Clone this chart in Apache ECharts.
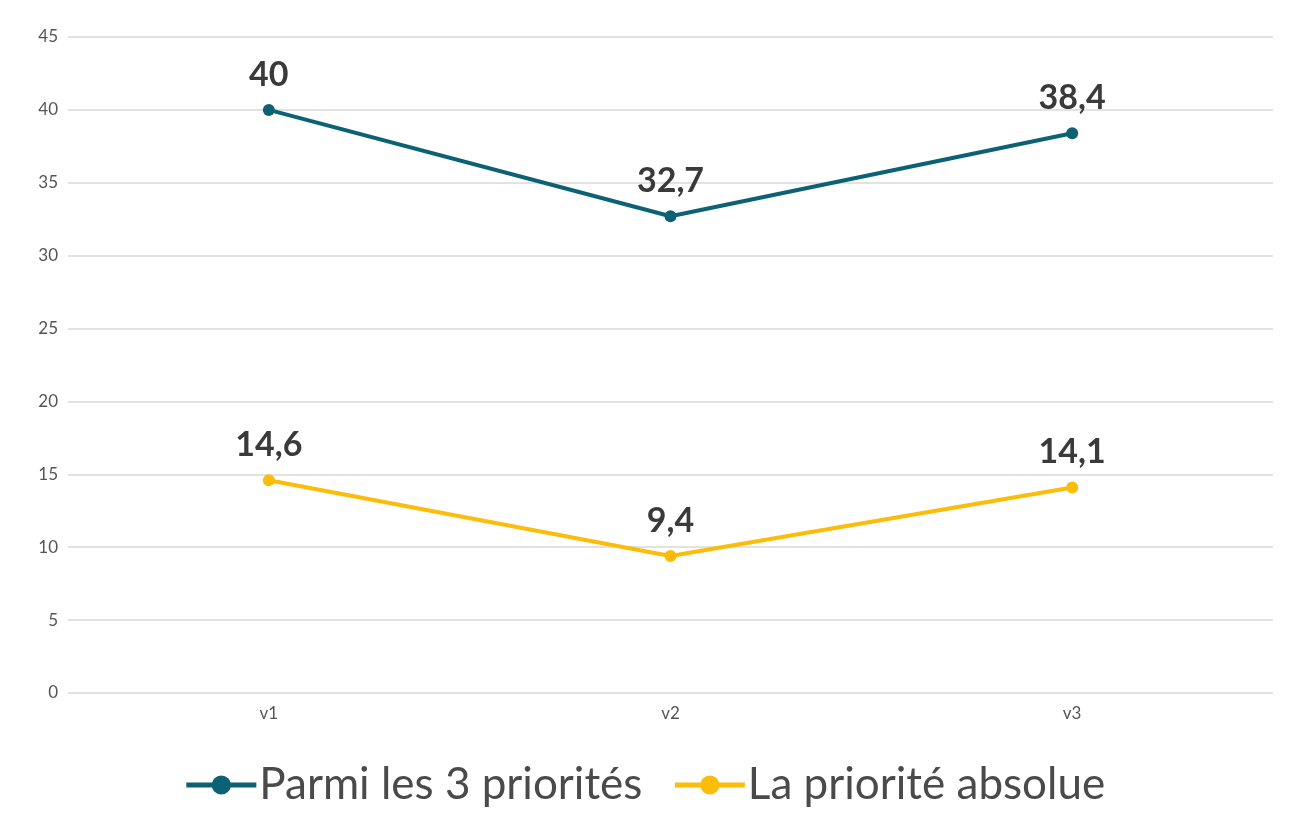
<!DOCTYPE html>
<html>
<head>
<meta charset="utf-8">
<script src="https://cdn.jsdelivr.net/npm/echarts@6/dist/echarts.min.js"></script>
<style>
  html, body { margin: 0; padding: 0; background: #fff; }
  #chart { width: 1289px; height: 816px; }
</style>
</head>
<body>
<div id="chart"></div>
<script>
const categories = ['v1', 'v2', 'v3'];
const parmiTrois = [40, 32.7, 38.4];
const prioriteAbsolue = [14.6, 9.4, 14.1];
const seriesNames = ['Parmi les 3 priorités', 'La priorité absolue'];

const fr = v => String(v).replace('.', ',');

const chart = echarts.init(document.getElementById('chart'));

const labelStyle = {
  show: true,
  position: 'top',
  distance: 12,
  fontFamily: 'Lato',
  fontWeight: 'bold',
  fontSize: 34,
  color: '#3a3a3a',
  formatter: p => fr(p.value)
};

chart.setOption({
  animation: false,
  textStyle: { fontFamily: 'Lato' },
  grid: { left: 68, right: 16, top: 37, bottom: 123 },
  legend: {
    bottom: 4,
    left: 'center',
    itemWidth: 70,
    itemHeight: 24,
    itemGap: 30,
    lineStyle: { width: 5 },
    textStyle: { fontFamily: 'Lato', fontSize: 44, color: '#4a4a4a', padding: [0, 0, 0, -2] },
    data: seriesNames
  },
  xAxis: {
    type: 'category',
    data: categories,
    boundaryGap: true,
    axisLine: { show: false },
    axisTick: { show: false },
    axisLabel: { fontSize: 17, color: '#555', margin: 12 }
  },
  yAxis: {
    type: 'value',
    min: 0,
    max: 45,
    interval: 5,
    axisLine: { show: false },
    axisTick: { show: false },
    axisLabel: { fontSize: 17, color: '#555', margin: 10 },
    splitLine: { lineStyle: { color: '#d9d9d9', width: 1.5 } }
  },
  series: [
    {
      name: seriesNames[0],
      type: 'line',
      data: parmiTrois,
      symbol: 'circle',
      symbolSize: 12,
      color: '#0c6175',
      lineStyle: { width: 4 },
      label: labelStyle
    },
    {
      name: seriesNames[1],
      type: 'line',
      data: prioriteAbsolue,
      symbol: 'circle',
      symbolSize: 12,
      color: '#fbbc0a',
      lineStyle: { width: 4 },
      label: labelStyle
    }
  ]
});
</script>
</body>
</html>
